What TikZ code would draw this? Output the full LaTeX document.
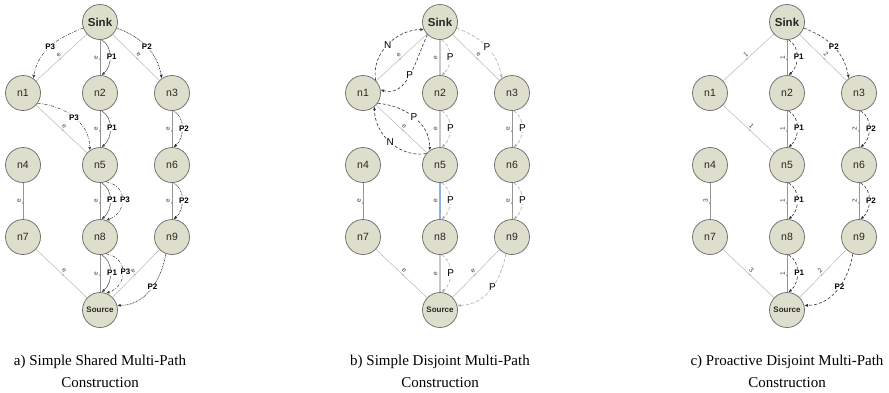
\documentclass[tikz,border=0pt]{standalone}
\usepackage{fontspec}
\setmainfont{Liberation Serif}
\setsansfont{Liberation Sans}
\usetikzlibrary{arrows.meta,decorations.markings}
\definecolor{nodefill}{RGB}{221,223,204}
\definecolor{nodeline}{RGB}{105,105,105}
\definecolor{edgegray}{RGB}{185,185,185}
\definecolor{vgray}{RGB}{150,150,150}
\definecolor{lgray}{RGB}{200,200,200}
\definecolor{pgray}{RGB}{175,175,175}
\definecolor{eblue}{RGB}{140,178,228}
\tikzset{
  nd/.style={circle, draw=nodeline, fill=nodefill, line width=0.7pt, minimum size=35pt, inner sep=0pt, font=\sffamily\fontsize{10.5}{12}\selectfont, text=black!85},
  sinknd/.style={nd, font=\sffamily\bfseries\fontsize{11.5}{13}\selectfont},
  srcnd/.style={nd, font=\sffamily\bfseries\fontsize{8}{10}\selectfont},
  midarrow/.style={postaction={decorate}, decoration={markings, mark=at position 0.5 with {\arrow{Latex[length=2.5pt,width=2pt]}}}},
  gedge/.style={draw=edgegray, line width=0.5pt, midarrow},
  vedge/.style={draw=vgray, line width=0.6pt, midarrow},
  thickedge/.style={draw=lgray, line width=1.5pt, midarrow},
  blueedge/.style={draw=eblue, line width=1.5pt, midarrow},
  elab/.style={font=\sffamily\fontsize{6.5}{7}\selectfont, text=black!75, sloped, auto, inner sep=1.8pt},
  arrtip/.style={-{Latex[length=3.5pt,width=3pt]}},
  pone/.style={arrtip, draw=black!70, line width=0.5pt},
  ptwo/.style={arrtip, draw=black!85, line width=0.6pt, dash pattern=on 0.8pt off 0.8pt},
  pthree/.style={arrtip, draw=black!75, line width=0.5pt, dash pattern=on 3pt off 1.5pt on 0.8pt off 1.5pt},
  pblack/.style={arrtip, draw=black!80, line width=0.6pt, dash pattern=on 3pt off 2pt},
  pgrayd/.style={-{Latex[length=3.5pt,width=3pt]}, draw=pgray, line width=0.6pt, dash pattern=on 3.5pt off 2pt},
  plab/.style={font=\sffamily\bfseries\fontsize{8}{9}\selectfont, fill=white, inner sep=0.5pt},
  plabn/.style={font=\sffamily\fontsize{10}{11}\selectfont, fill=white, inner sep=0.5pt},
  captxt/.style={font=\fontsize{15}{18}\selectfont, anchor=base, inner sep=0pt},
}
\begin{document}
\begin{tikzpicture}[x=1pt,y=1pt]
\path[use as bounding box, fill=white] (0,0) rectangle (889,-392);
% nodes
\foreach \p/\dx in {a/0,b/340,c/687}{
  \begin{scope}[xshift=\dx pt]
  \node[sinknd] (sink\p) at (100,-22) {Sink};
  \node[nd] (n1\p) at (23,-93) {n1};
  \node[nd] (n2\p) at (100,-93) {n2};
  \node[nd] (n3\p) at (172,-93) {n3};
  \node[nd] (n4\p) at (23,-165) {n4};
  \node[nd] (n5\p) at (100,-165) {n5};
  \node[nd] (n6\p) at (172,-165) {n6};
  \node[nd] (n7\p) at (23,-237) {n7};
  \node[nd] (n8\p) at (100,-237) {n8};
  \node[nd] (n9\p) at (172,-237) {n9};
  \node[srcnd] (src\p) at (100,-310) {Source};
  \end{scope}
}
% ---------- panel a ----------
\draw[gedge] (n1a) -- node[elab]{e} (sinka);
\draw[vedge] (n2a) -- node[elab]{e} (sinka);
\draw[gedge] (n3a) -- node[elab]{e} (sinka);
\draw[gedge] (n5a) -- node[elab]{e} (n1a);
\draw[vedge] (n5a) -- node[elab]{e} (n2a);
\draw[vedge] (n6a) -- node[elab]{e} (n3a);
\draw[vedge] (n7a) -- node[elab]{e} (n4a);
\draw[vedge] (n8a) -- node[elab]{e} (n5a);
\draw[vedge] (n9a) -- node[elab]{e} (n6a);
\draw[gedge] (srca) -- node[elab]{e} (n7a);
\draw[vedge] (srca) -- node[elab]{e} (n8a);
\draw[gedge] (srca) -- node[elab]{e} (n9a);

\draw[pthree] (sinka.200) to[out=200,in=80] node[plab]{P3} (n1a.55);
\draw[pone] (sinka.-85) to[out=-30,in=40] node[plab,right=-4pt]{P1} (n2a.85);
\draw[ptwo] (sinka.-20) to[out=-20,in=100] node[plab]{P2} (n3a.125);
\draw[pthree] (n1a.-35) to[out=-5,in=90] node[plab]{P3} (n5a.125);
\draw[pone] (n2a.-85) to[out=-30,in=40] node[plab,right=-4pt]{P1} (n5a.85);
\draw[ptwo] (n3a.-85) to[out=-30,in=40] node[plab,right=-4pt]{P2} (n6a.85);
\draw[pthree] (n5a.-70) to[out=-10,in=20,looseness=1.5] node[plab,right=-3pt]{P3} (n8a.70);
\draw[pone] (n5a.-85) to[out=-30,in=40] node[plab,right=-4pt]{P1} (n8a.85);
\draw[ptwo] (n6a.-85) to[out=-30,in=40] node[plab,right=-4pt]{P2} (n9a.85);
\draw[pthree] (n8a.-70) to[out=-10,in=20,looseness=1.5] node[plab,right=-3pt]{P3} (srca.70);
\draw[pone] (n8a.-85) to[out=-30,in=40] node[plab,right=-4pt]{P1} (srca.85);
\draw[ptwo] (n9a.-110) to[out=-100,in=0] node[plab,pos=0.45]{P2} (srca.15);

% ---------- panel b ----------
\draw[gedge] (n1b) -- node[elab]{e} (sinkb);
\draw[thickedge] (n2b) -- node[elab]{e} (sinkb);
\draw[gedge] (n3b) -- node[elab]{e} (sinkb);
\draw[gedge] (n5b) -- node[elab]{e} (n1b);
\draw[thickedge] (n5b) -- node[elab]{e} (n2b);
\draw[vedge] (n6b) -- node[elab]{e} (n3b);
\draw[vedge] (n7b) -- node[elab]{e} (n4b);
\draw[blueedge] (n8b) -- node[elab]{e} (n5b);
\draw[vedge] (n9b) -- node[elab]{e} (n6b);
\draw[gedge] (srcb) -- node[elab]{e} (n7b);
\draw[thickedge] (srcb) -- node[elab]{e} (n8b);
\draw[gedge] (srcb) -- node[elab]{e} (n9b);

\draw[pblack] (n1b.45) to[out=100,in=180] node[plabn]{N} (sinkb.205);
\draw[pblack] (sinkb.225) to[out=-115,in=-15] node[plabn]{P} (n1b.10);
\draw[pblack] (n1b.-35) to[out=-5,in=90] node[plabn]{P} (n5b.125);
\draw[pblack] (n5b.140) to[out=190,in=-90] node[plabn]{N} (n1b.-50);
\draw[pgrayd] (sinkb.-85) to[out=-30,in=40] node[plabn,right=-4pt]{P} (n2b.85);
\draw[pgrayd] (sinkb.-20) to[out=-20,in=100] node[plabn]{P} (n3b.125);
\draw[pgrayd] (n2b.-85) to[out=-30,in=40] node[plabn,right=-4pt]{P} (n5b.85);
\draw[pgrayd] (n3b.-85) to[out=-30,in=40] node[plabn,right=-4pt]{P} (n6b.85);
\draw[pgrayd] (n5b.-85) to[out=-30,in=40] node[plabn,right=-4pt]{P} (n8b.85);
\draw[pgrayd] (n6b.-85) to[out=-30,in=40] node[plabn,right=-4pt]{P} (n9b.85);
\draw[pgrayd] (n8b.-85) to[out=-30,in=40] node[plabn,right=-4pt]{P} (srcb.85);
\draw[pgrayd] (n9b.-110) to[out=-100,in=0] node[plabn,pos=0.45]{P} (srcb.15);

% ---------- panel c ----------
\draw[gedge] (n1c) -- node[elab]{1} (sinkc);
\draw[vedge] (n2c) -- node[elab]{1} (sinkc);
\draw[gedge] (n3c) -- node[elab]{2} (sinkc);
\draw[gedge] (n5c) -- node[elab]{1} (n1c);
\draw[vedge] (n5c) -- node[elab]{1} (n2c);
\draw[vedge] (n6c) -- node[elab]{2} (n3c);
\draw[vedge] (n7c) -- node[elab]{3} (n4c);
\draw[vedge] (n8c) -- node[elab]{1} (n5c);
\draw[vedge] (n9c) -- node[elab]{2} (n6c);
\draw[gedge] (srcc) -- node[elab]{3} (n7c);
\draw[vedge] (srcc) -- node[elab]{1} (n8c);
\draw[gedge] (srcc) -- node[elab]{2} (n9c);

\draw[pblack] (sinkc.-85) to[out=-30,in=40] node[plab,right=-4pt]{P1} (n2c.85);
\draw[pblack] (n2c.-85) to[out=-30,in=40] node[plab,right=-4pt]{P1} (n5c.85);
\draw[pblack] (n5c.-85) to[out=-30,in=40] node[plab,right=-4pt]{P1} (n8c.85);
\draw[pblack] (n8c.-85) to[out=-30,in=40] node[plab,right=-4pt]{P1} (srcc.85);
\draw[pblack] (sinkc.-20) to[out=-20,in=100] node[plab]{P2} (n3c.125);
\draw[pblack] (n3c.-85) to[out=-30,in=40] node[plab,right=-4pt]{P2} (n6c.85);
\draw[pblack] (n6c.-85) to[out=-30,in=40] node[plab,right=-4pt]{P2} (n9c.85);
\draw[pblack] (n9c.-110) to[out=-100,in=0] node[plab,pos=0.45]{P2} (srcc.15);

% captions
\node[captxt] (capa1) at (100,-365) {a) Simple Shared Multi-Path};
\node[captxt] (capa2) at (100,-387) {Construction};
\node[captxt] (capb1) at (440,-365) {b) Simple Disjoint Multi-Path};
\node[captxt] (capb2) at (440,-387) {Construction};
\node[captxt] (capc1) at (787,-365) {c) Proactive Disjoint Multi-Path};
\node[captxt] (capc2) at (787,-387) {Construction};
\end{tikzpicture}
\end{document}
